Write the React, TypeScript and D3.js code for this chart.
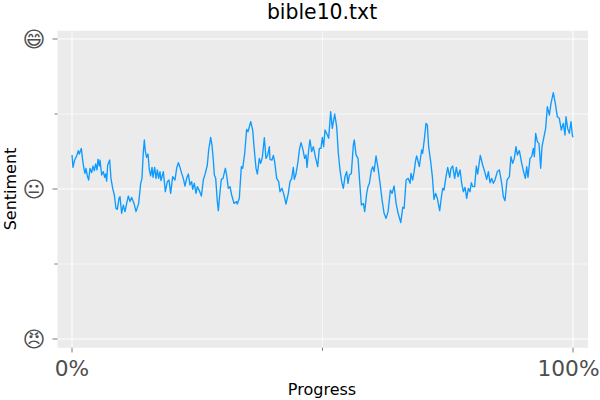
import * as d3 from "d3";
import React from "react";

const progress = [
  0, .2, .53, .93, 1.26, 1.46, 1.86, 2.13, 2.4, 2.59, 2.79, 3.06, 3.33, 3.59, 3.93, 4.19, 4.46, 4.72, 4.99, 5.19,
  5.46, 5.59, 5.92, 6.25, 6.52, 6.72, 6.92, 7.12, 7.52, 7.78, 8.12, 8.45, 8.78, 9.05, 9.38, 9.58, 9.91, 10.25, 10.58, 10.91,
  11.24, 11.58, 11.91, 12.38, 12.77, 13.31, 13.71, 13.97, 14.24, 14.44, 14.64, 14.9, 15.17, 15.44, 15.7, 15.97, 16.17, 16.5, 16.77, 17.03,
  17.3, 17.56, 17.76, 18.23, 18.63, 19.03, 19.36, 19.69, 20.09, 20.56, 20.89, 21.22, 21.56, 21.89, 22.22, 22.55, 22.89, 23.22, 23.55, 23.89,
  24.09, 24.42, 24.75, 25.02, 25.42, 25.82, 26.21, 26.61, 27.01, 27.28, 27.68, 27.94, 28.21, 28.41, 28.68, 29.01, 29.21, 29.54, 29.81, 30.14,
  30.61, 30.87, 31.2, 31.54, 31.87, 32.34, 32.87, 33, 33.4, 33.8, 34.07, 34.47, 34.86, 35.13, 35.67, 36.07, 36.33, 36.73, 37, 37.39,
  37.66, 37.99, 38.39, 38.72, 39.06, 39.39, 39.52, 39.92, 40.19, 40.45, 40.85, 41.25, 41.52, 41.92, 42.32, 42.71, 43.18, 43.51, 43.85, 44.18,
  44.38, 44.71, 45.11, 45.38, 45.71, 46.04, 46.44, 46.71, 46.91, 47.24, 47.5, 47.84, 48.17, 48.57, 49.04, 49.37, 49.7, 49.97, 50.23, 50.5,
  50.97, 51.23, 51.63, 51.96, 52.43, 52.83, 53.16, 53.49, 53.83, 54.16, 54.49, 54.82, 55.09, 55.36, 55.76, 56.15, 56.35, 56.69, 57.09, 57.49,
  57.76, 58.16, 58.42, 58.82, 59.09, 59.36, 59.76, 60.03, 60.29, 60.69, 61.09, 61.49, 61.89, 62.29, 62.69, 63.09, 63.55, 63.89, 64.29, 64.69,
  65.09, 65.62, 66.02, 66.29, 66.69, 67.09, 67.49, 67.66, 68, 68.26, 68.6, 68.8, 69.33, 69.79, 69.99, 70.39, 70.66, 70.92, 71.19, 71.59,
  71.93, 72.26, 72.59, 72.92, 73.39, 73.79, 73.99, 74.25, 74.65, 74.99, 75.39, 75.65, 75.99, 76.38, 76.72, 77.05, 77.45, 77.78, 78.11, 78.45,
  78.78, 79.11, 79.44, 79.71, 79.98, 80.37, 80.71, 80.97, 81.5, 81.97, 82.37, 82.77, 83.11, 83.44, 83.77, 84.1, 84.43, 84.9, 85.3, 85.77,
  86.1, 86.43, 86.83, 87.3, 87.62, 87.96, 88.29, 88.62, 88.89, 89.29, 89.76, 90.22, 90.49, 90.76, 91.02, 91.42, 91.76, 92.08, 92.29, 92.55,
  92.88, 93.21, 93.55, 93.81, 94.21, 94.54, 94.88, 95.28, 95.61, 96.07, 96.47, 96.87, 97.27, 97.67, 98.07, 98.4, 98.6, 98.93, 99.27, 99.6,
  99.87, 100,
];

const sentiment = [
  .227, .144, .193, .22, .256, .233, .271, .193, .131, .104, .138, .087, .06, .138, .109, .153, .122, .167, .127, .198,
  .153, .193, .093, .116, .078, .1, .053, .16, .193, .071, .004, -.04, -.129, -.136, -.062, -.051, -.162, -.107, -.151, -.096,
  -.047, -.084, -.056, -.096, -.151, -.096, .038, .071, .249, .327, .249, .211, .233, .127, .087, .144, .078, .144, .071, .127,
  .071, .116, .056, .116, -.018, .049, .06, -.029, .082, .06, .138, .176, .144, .104, .071, .02, .071, .1, .027, .049,
  -.002, .038, -.029, .016, -.011, -.047, .06, .104, .16, .26, .344, .293, .193, .093, .071, -.084, -.144, -.018, .064, .071,
  .138, .093, .004, .016, -.04, -.096, -.084, -.1, -.062, .149, .138, .238, .398, .382, .449, .393, .282, .138, .1, .204,
  .171, .211, .342, .204, .227, .282, .198, .193, .224, .182, .071, .049, -.018, .004, -.04, -.1, -.029, .049, .071, .144,
  .064, .1, .182, .26, .309, .271, .204, .227, .144, .26, .327, .249, .282, .216, .149, .271, .271, .344, .282, .393,
  .36, .338, .516, .404, .5, .416, .238, .127, .049, .004, .082, .116, .038, .093, .104, .293, .327, .227, .204, .016,
  -.107, -.096, -.151, -.029, .016, .038, .127, .149, .116, .22, .138, .038, -.073, -.162, -.196, -.151, -.007, -.029, .02, -.096,
  -.162, -.224, -.122, -.129, .06, .071, .038, .104, .06, .109, .193, .22, .149, .26, .238, .349, .438, .427, .282, .182,
  .082, -.069, -.029, -.062, -.144, -.04, .004, -.007, .082, .144, .078, .138, .153, .071, .144, .082, .127, .038, -.018, .011,
  -.062, .004, -.018, .042, .016, .016, .153, .1, .224, .16, .116, .064, .116, .042, .071, .038, .06, .116, .127, .038,
  -.051, -.078, .06, .082, .216, .171, .204, .282, .227, .256, .171, .104, .071, .149, .078, .204, .216, .271, .216, .371,
  .316, .304, .138, .282, .349, .404, .549, .493, .571, .642, .571, .482, .471, .393, .438, .36, .482, .404, .371, .449,
  .36, .344,
];

const yMajor = [-1, 0, 1];
const yMinor = [-0.5, 0.5];
const yLabels = ["😠", "😐", "😄"];
const xMajor = [0, 100];
const xMinor = [50];
const xLabels = ["0%", "100%"];

const FONT = "'DejaVu Sans', sans-serif";

export default function App() {
  const width = 600;
  const height = 400;
  const panel = { left: 57.5, right: 588, top: 30.7, bottom: 347.8 };

  const x = d3.scaleLinear().domain([0, 100]).range([72, 573]);
  const y = d3.scaleLinear().domain([-1, 1]).range([339, 39]);

  const line = d3.line<number>()
    .x((_, i) => x(progress[i]))
    .y(d => y(d));

  return (
    <svg
      width={width}
      height={height}
      style={{ position: "fixed", left: 0, top: 0, background: "#fff", fontFamily: FONT }}
    >
      <rect
        x={panel.left}
        y={panel.top}
        width={panel.right - panel.left}
        height={panel.bottom - panel.top}
        fill="#ebebeb"
      />
      {yMinor.map(v => (
        <line key={v} x1={panel.left} x2={panel.right} y1={y(v)} y2={y(v)} stroke="#fff" strokeWidth={0.6} />
      ))}
      {xMinor.map(v => (
        <line key={v} y1={panel.top} y2={panel.bottom} x1={x(v)} x2={x(v)} stroke="#fff" strokeWidth={0.6} />
      ))}
      {yMajor.map(v => (
        <line key={v} x1={panel.left} x2={panel.right} y1={y(v)} y2={y(v)} stroke="#fff" strokeWidth={1} />
      ))}
      {xMajor.map(v => (
        <line key={v} y1={panel.top} y2={panel.bottom} x1={x(v)} x2={x(v)} stroke="#fff" strokeWidth={1} />
      ))}

      <path d={line(sentiment) ?? ""} fill="none" stroke="#0d9bff" strokeWidth={1.35} strokeLinejoin="round" />

      {yMajor.map(v => (
        <line key={v} x1={52.5} x2={57.5} y1={y(v)} y2={y(v)} stroke="#555" strokeWidth={0.8} />
      ))}
      {yMinor.map(v => (
        <line key={v} x1={54.5} x2={57.5} y1={y(v)} y2={y(v)} stroke="#555" strokeWidth={0.8} />
      ))}
      {xMajor.map(v => (
        <line key={v} x1={x(v)} x2={x(v)} y1={347.8} y2={352.5} stroke="#555" strokeWidth={0.8} />
      ))}
      {xMinor.map(v => (
        <line key={v} x1={x(v)} x2={x(v)} y1={347.8} y2={350.7} stroke="#555" strokeWidth={0.8} />
      ))}

      {yMajor.map((v, i) => (
        <text key={v} x={34} y={y(v)} dy="0.38em" textAnchor="middle" fontSize={22} fill="#4d4d4d">
          {yLabels[i]}
        </text>
      ))}
      <text x={x(xMajor[0])} y={375.7} textAnchor="middle" fontSize={21.7} fill="#4d4d4d">{xLabels[0]}</text>
      {/* last label is pushed left so it stays inside the page */}
      <text x={599.5} y={375.7} textAnchor="end" fontSize={21.7} fill="#4d4d4d">{xLabels[1]}</text>

      <text x={322} y={18.5} textAnchor="middle" fontSize={20.4} fill="#000">bible10.txt</text>
      <text x={322} y={395} textAnchor="middle" fontSize={16} fill="#000">Progress</text>
      <text transform="translate(15.5,189) rotate(-90)" textAnchor="middle" fontSize={16} fill="#000">Sentiment</text>
    </svg>
  );
}
